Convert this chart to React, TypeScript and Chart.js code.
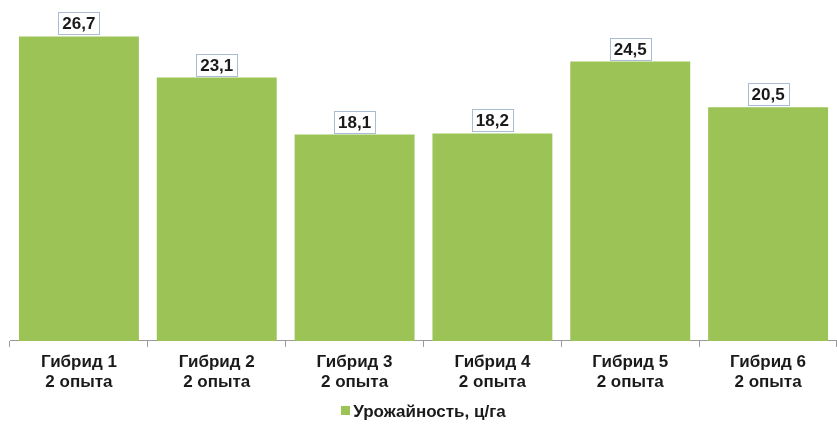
import React, { useEffect, useRef } from "react";
import { Chart, registerables } from "chart.js";

Chart.register(...registerables);

const categories: string[][] = [
  ["Гибрид 1", "2 опыта"],
  ["Гибрид 2", "2 опыта"],
  ["Гибрид 3", "2 опыта"],
  ["Гибрид 4", "2 опыта"],
  ["Гибрид 5", "2 опыта"],
  ["Гибрид 6", "2 опыта"],
];
const yieldValues: number[] = [26.7, 23.1, 18.1, 18.2, 24.5, 20.5];
const seriesLabel = "Урожайность, ц/га";

const FONT = "'Liberation Sans', Arial, sans-serif";
const GREEN = "#9cc356";

const valueLabels = {
  id: "valueLabels",
  afterDatasetsDraw(chart: any) {
    const ctx = chart.ctx;
    const meta = chart.getDatasetMeta(0);
    ctx.save();
    ctx.font = `bold 17px ${FONT}`;
    ctx.textAlign = "center";
    ctx.textBaseline = "middle";
    meta.data.forEach((bar: any, i: number) => {
      const txt = yieldValues[i].toFixed(1).replace(".", ",");
      const w = Math.round(ctx.measureText(txt).width + 8);
      const h = 23;
      const x = bar.x;
      const yb = Math.round(bar.y - 1);
      const left = Math.round(x - w / 2);
      ctx.fillStyle = "#ffffff";
      ctx.fillRect(left, yb - h, w, h);
      ctx.strokeStyle = "#a9bcd4";
      ctx.lineWidth = 1;
      ctx.strokeRect(left + 0.5, yb - h + 0.5, w, h - 1);
      ctx.fillStyle = "#1a1a1a";
      ctx.fillText(txt, x, yb - h / 2 + 1);
    });
    ctx.restore();
  },
};

const bottomLegend = {
  id: "bottomLegend",
  afterDraw(chart: any) {
    const ctx = chart.ctx;
    const ds = chart.data.datasets[0];
    ctx.save();
    ctx.font = `bold 17px ${FONT}`;
    const tw = ctx.measureText(ds.label).width;
    const box = 9;
    const gap = 3;
    const total = box + gap + tw;
    const cx = chart.width / 2 + 5;
    const left = cx - total / 2;
    const cy = 411;
    ctx.fillStyle = ds.backgroundColor;
    ctx.fillRect(Math.round(left), cy - 5, box, box);
    ctx.fillStyle = "#1a1a1a";
    ctx.textBaseline = "middle";
    ctx.textAlign = "left";
    ctx.fillText(ds.label, left + box + gap, cy + 1);
    ctx.restore();
  },
};

export default function App() {
  const ref = useRef<HTMLCanvasElement>(null);
  useEffect(() => {
    document.body.style.margin = "0";
    const chart = new Chart(ref.current!, {
      type: "bar",
      data: {
        labels: categories,
        datasets: [
          {
            label: seriesLabel,
            data: yieldValues,
            backgroundColor: GREEN,
            borderWidth: 0,
            barPercentage: 0.87,
            categoryPercentage: 1,
          },
        ],
      },
      options: {
        animation: false,
        responsive: false,
        maintainAspectRatio: false,
        layout: { padding: { left: 10, right: 0, top: 0, bottom: 31 } },
        plugins: {
          tooltip: { enabled: false },
          legend: { display: false },
        },
        scales: {
          x: {
            grid: {
              display: true,
              offset: true,
              drawOnChartArea: false,
              tickLength: 6,
              color: "#9a9a9a",
            },
            border: { display: true, color: "#9a9a9a" },
            ticks: {
              color: "#1a1a1a",
              padding: 5,
              font: { family: FONT, size: 17, weight: "bold", lineHeight: 1.18 },
              maxRotation: 0,
            },
          },
          y: {
            display: false,
            min: 0,
            max: 29.9,
          },
        },
      },
      plugins: [valueLabels, bottomLegend],
    });
    return () => chart.destroy();
  }, []);
  return <canvas ref={ref} width={837} height={428} style={{ display: "block" }} />;
}
